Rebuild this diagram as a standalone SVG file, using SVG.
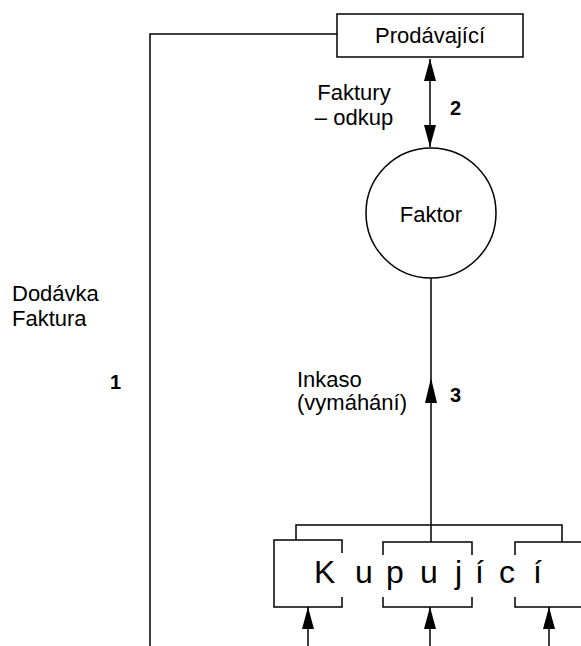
<svg xmlns="http://www.w3.org/2000/svg" width="581" height="646" viewBox="0 0 581 646">
<style>
.ln{fill:none;stroke:#000;stroke-width:1.5}
.t{font-family:"Liberation Sans",Arial,sans-serif;font-size:22px;fill:#000}
.n{font-family:"Liberation Sans",Arial,sans-serif;font-size:20px;font-weight:bold;fill:#000}
.big{font-family:"Liberation Sans",Arial,sans-serif;font-size:32px;fill:#000}
</style>
<defs>
<marker id="ah" viewBox="0 0 12 22" refX="12" refY="6" markerWidth="22" markerHeight="12" markerUnits="userSpaceOnUse" orient="auto">
<path d="M0,0 L22,6 L0,12 Z" fill="#000"/>
</marker>
<marker id="ah2" viewBox="0 0 22 12" refX="22" refY="6" markerWidth="22" markerHeight="12" markerUnits="userSpaceOnUse" orient="auto">
<path d="M0,0 L22,6 L0,12 Z" fill="#000"/>
</marker>
<marker id="ahs" viewBox="0 0 22 12" refX="0" refY="6" markerWidth="22" markerHeight="12" markerUnits="userSpaceOnUse" orient="auto">
<path d="M22,0 L0,6 L22,12 Z" fill="#000"/>
</marker>
</defs>
<g id="connectors">
<path class="ln" d="M337,34 H150 V646"/>
<line class="ln" x1="430" y1="59" x2="430" y2="147" marker-start="url(#ahs)" marker-end="url(#ah2)"/>
<line class="ln" x1="431" y1="278" x2="431" y2="542"/>
<path d="M431,378 L425,403 L437,403 Z" fill="#000"/>
<path class="ln" d="M296,540 V525 H562 V542"/>
<line class="ln" x1="308" y1="646" x2="308" y2="607" marker-end="url(#ah2)"/>
<line class="ln" x1="430" y1="646" x2="430" y2="607" marker-end="url(#ah2)"/>
<line class="ln" x1="549" y1="646" x2="549" y2="607" marker-end="url(#ah2)"/>
</g>
<g id="prodavajici">
<rect class="ln" x="337" y="14" width="186" height="43"/>
<text class="t" x="430" y="43" text-anchor="middle">Prodávající</text>
</g>
<g id="faktor">
<circle class="ln" cx="431" cy="213" r="65"/>
<text class="t" x="431" y="222" text-anchor="middle">Faktor</text>
</g>
<g id="kupujici">
<path class="ln" d="M342,553 V540 H274 V607 H342 V597"/>
<path class="ln" d="M383,555 V542 H472 V555 M383,597 V607 H472 V597"/>
<path class="ln" d="M515,555 V542 H581 M515,597 V607 H581"/>
<text class="big" x="314 355 386 420 455 475 499 533" y="583">Kupující</text>
</g>
<g id="labels">
<text class="t" x="354" y="100" text-anchor="middle">Faktury</text>
<text class="t" x="354" y="125" text-anchor="middle">– odkup</text>
<text class="n" x="450" y="115">2</text>
<text class="t" x="12" y="301">Dodávka</text>
<text class="t" x="12" y="326">Faktura</text>
<text class="n" x="110" y="389">1</text>
<text class="t" x="297" y="387">Inkaso</text>
<text class="t" x="297" y="410">(vymáhání)</text>
<text class="n" x="450" y="402">3</text>
</g>
</svg>
